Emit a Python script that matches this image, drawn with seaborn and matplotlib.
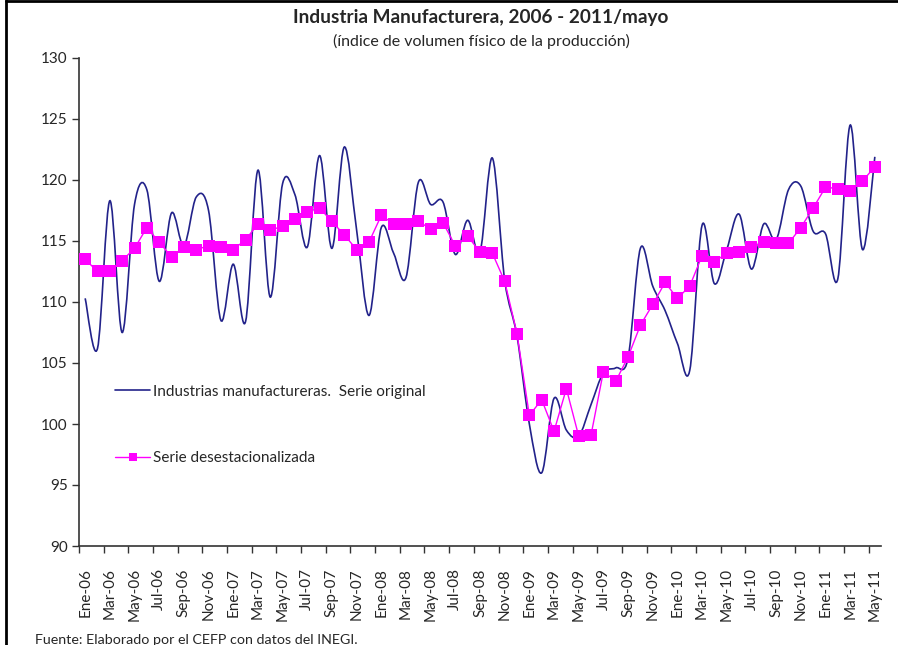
import numpy as np
import pandas as pd
import matplotlib
matplotlib.use("Agg")
import matplotlib.pyplot as plt
import seaborn as sns
from matplotlib.path import Path
from matplotlib.patches import PathPatch
from matplotlib.lines import Line2D

# Monthly index, Ene-2006 .. May-2011 (65 months)
years = [2006, 2007, 2008, 2009, 2010, 2011]
month_names = ["Ene", "Feb", "Mar", "Abr", "May", "Jun",
               "Jul", "Ago", "Sep", "Oct", "Nov", "Dic"]

serie_original = [
    110.3, 106.2, 118.3, 107.5, 118.0, 119.2, 111.7, 117.3, 114.6, 118.6, 117.5, 108.5,
    113.1, 108.4, 120.8, 110.4, 119.7, 118.8, 114.5, 122.0, 114.4, 122.7, 115.9, 108.9,
    116.1, 114.0, 112.0, 119.8, 118.0, 118.2, 113.9, 116.7, 114.1, 121.8, 111.8, 107.2,
    100.0, 96.0, 102.1, 99.5, 99.0, 101.6, 104.2, 104.6, 105.4, 114.4, 111.3, 109.3,
    106.6, 104.4, 116.3, 111.5, 114.3, 117.2, 112.7, 116.4, 115.1, 119.2, 119.5, 115.8,
    115.6, 111.9, 124.5, 114.3, 121.9,
]

serie_desest = [
    113.5, 112.5, 112.5, 113.4, 114.4, 116.1, 114.9, 113.7, 114.5, 114.3, 114.6, 114.5,
    114.3, 115.1, 116.4, 115.9, 116.2, 116.8, 117.4, 117.7, 116.6, 115.5, 114.3, 114.9,
    117.1, 116.4, 116.4, 116.6, 116.0, 116.5, 114.6, 115.4, 114.1, 114.0, 111.7, 107.4,
    100.7, 102.0, 99.4, 102.9, 99.0, 99.1, 104.3, 103.5, 105.5, 108.1, 109.8, 111.6,
    110.3, 111.3, 113.8, 113.3, 114.0, 114.1, 114.5, 114.9, 114.8, 114.8, 116.1, 117.7,
    119.4, 119.3, 119.1, 119.9, 121.1,
]

periodos = [f"{m}-{str(y)[2:]}" for y in years for m in month_names][:len(serie_desest)]

df = pd.DataFrame({
    "idx": np.arange(len(periodos)),
    "periodo": periodos,
    "original": serie_original,
    "desest": serie_desest,
})

sns.set_style("white")
plt.rcParams["font.family"] = ["Lato", "DejaVu Sans"]

W, H = 898, 645
fig = plt.figure(figsize=(W / 100, H / 100), dpi=100)
ax = fig.add_axes([79 / W, 1 - 546 / H, 802 / W, 488 / H])

navy = "#22228a"
magenta = "#ff00ff"


def smooth_path(xs, ys):
    # Excel-like smoothed line: cubic Bezier segments through every point
    pts = np.column_stack([xs, ys]).astype(float)
    n = len(pts)
    verts = [pts[0]]
    codes = [Path.MOVETO]
    for i in range(n - 1):
        p0 = pts[i - 1] if i > 0 else pts[i]
        p1 = pts[i]
        p2 = pts[i + 1]
        p3 = pts[i + 2] if i + 2 < n else pts[i + 1]
        c1 = p1 + (p2 - p0) / 6.0
        c2 = p2 - (p3 - p1) / 6.0
        verts += [c1, c2, p2]
        codes += [Path.CURVE4] * 3
    return Path(verts, codes)


ax.add_patch(PathPatch(smooth_path(df["idx"], df["original"]),
                       facecolor="none", edgecolor=navy, lw=1.2, zorder=2))

sns.lineplot(data=df, x="idx", y="desest", ax=ax, color=magenta, lw=1.0,
             marker="s", markersize=8, markeredgewidth=0, zorder=3)

ax.set_xlim(-0.5, len(periodos) - 0.5)
ax.set_ylim(90, 130)
ax.set_yticks(np.arange(90, 131, 5))
ax.set_xlabel("")
ax.set_ylabel("")

# tick marks on category boundaries, labels on category centres
ax.set_xticks(np.arange(-0.5, len(periodos) - 1, 2))
ax.set_xticklabels([])
ax.set_xticks(df["idx"][::2], df["periodo"][::2], minor=True)
ax.tick_params(axis="x", which="major", direction="out", length=5, width=1,
               color="#333333", bottom=True)
ax.tick_params(axis="x", which="minor", length=0, pad=16, labelsize=11,
               labelrotation=90, bottom=True)
ax.tick_params(axis="y", direction="out", length=5, width=1, color="#333333",
               pad=3, labelsize=11, left=True)

for side in ["top", "right"]:
    ax.spines[side].set_visible(False)
for side in ["left", "bottom"]:
    ax.spines[side].set_color("#333333")
    ax.spines[side].set_linewidth(1.2)

handles = [
    Line2D([], [], color=navy, lw=1.2),
    Line2D([], [], color=magenta, lw=1.0, marker="s", markersize=6, markeredgewidth=0),
]
ax.legend(handles, ["Industrias manufactureras.  Serie original",
                    "Serie desestacionalizada"],
          loc="center left", bbox_to_anchor=((115 - 79) / 802, (546 - 425) / 488),
          frameon=False, fontsize=11, handlelength=2.3, handletextpad=0.2,
          labelspacing=3.45, borderpad=0, borderaxespad=0)

fig.text(481 / W, 1 - 17 / H, "Industria Manufacturera, 2006 - 2011/mayo",
         ha="center", va="center", fontsize=13.7, fontweight="bold")
fig.text(481 / W, 1 - 41 / H, "(índice de volumen físico de la producción)",
         ha="center", va="center", fontsize=11.5)
fig.text(35 / W, 1 - 634 / H, "Fuente: Elaborado por el CEFP con datos del INEGI.",
         ha="left", va="top", fontsize=10.3)

# chart-area frame (left and top edges visible)
fig.add_artist(Line2D([6 / W, 6 / W], [0, 1], color="black", lw=2,
                      transform=fig.transFigure))
fig.add_artist(Line2D([6 / W, 1], [1 - 1 / H, 1 - 1 / H], color="black", lw=2,
                      transform=fig.transFigure))

fig.savefig("out.png", dpi=100)
